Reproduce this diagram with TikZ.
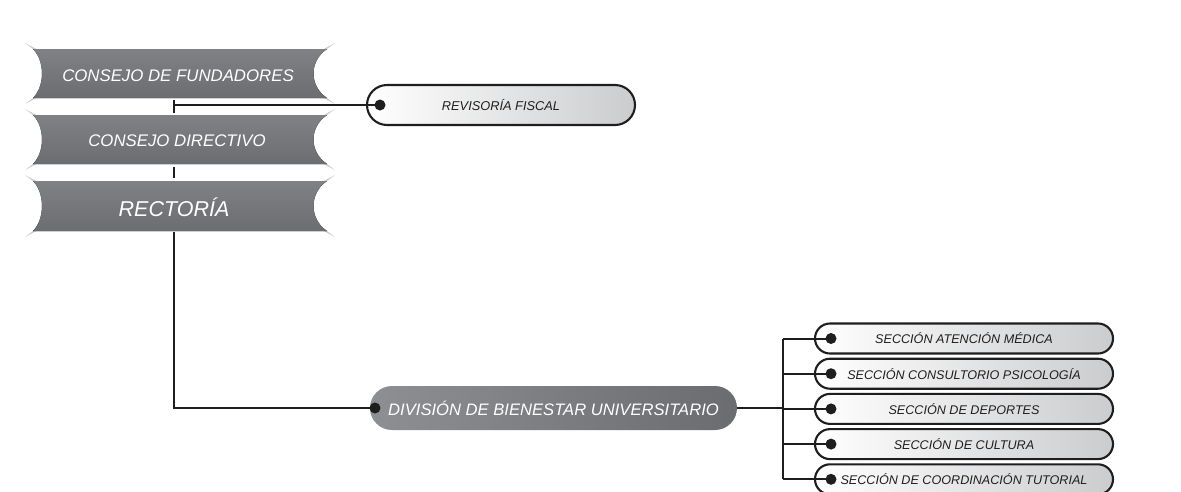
\documentclass[tikz,border=0pt]{standalone}
\usepackage{fontspec}
\setmainfont{Liberation Sans}
\definecolor{bantop}{HTML}{808185}
\definecolor{banbot}{HTML}{6C6D71}
\definecolor{divl}{HTML}{8E8F92}
\definecolor{divr}{HTML}{6B6C70}
\definecolor{pillr}{HTML}{CBCCCE}
\definecolor{ink}{HTML}{1E1E1E}
\definecolor{wedge}{HTML}{C9CACC}
\newcommand\mybanner[2]{%
  \fill[wedge] (33,#1) -- (25,{#1-6}) -- (40,{#1+2}) -- cycle;
  \fill[wedge] (33,#2) -- (25,{#2+6}) -- (40,{#2-2}) -- cycle;
  \fill[wedge] (327,#1) -- (335,{#1-6}) -- (320,{#1+2}) -- cycle;
  \fill[wedge] (327,#2) -- (335,{#2+6}) -- (320,{#2-2}) -- cycle;
  \fill[top color=bantop,bottom color=banbot]
    (33,#1) -- (327,#1) .. controls (309,{#1+12}) and (309,{#2-12}) .. (327,#2)
    -- (33,#2) .. controls (45,{#2-12}) and (45,{#1+12}) .. (33,#1) -- cycle;
}
\begin{document}
\begin{tikzpicture}[x=1pt,y=-1pt,
  banner/.style={text=white,inner sep=0pt,font=\itshape\fontsize{16.8}{18}\selectfont},
  conn/.style={draw=ink,line width=2pt},
  pillw/.style={draw=ink,line width=2.1pt,rounded corners=15pt,left color=white,right color=pillr,
     minimum width=298pt,minimum height=30pt,inner sep=0pt,text=ink,font=\itshape\fontsize{12.6}{14}\selectfont},
  dot/.style={circle,fill=ink,inner sep=0pt,minimum size=11pt},
  divpill/.style={rounded corners=22pt,left color=divl,right color=divr,minimum width=367pt,minimum height=44pt,
     inner sep=0pt,text=white,font=\itshape\fontsize{16.6}{18}\selectfont}]
\useasboundingbox (0,0) rectangle (1181,491);
\fill[white] (0,0) rectangle (1181,491);
% banners
\mybanner{49}{98}
\mybanner{115}{164}
\mybanner{181}{231}
\node[banner] (cf) at (178,76) {CONSEJO DE FUNDADORES};
\node[banner] (cd) at (177,141) {CONSEJO DIRECTIVO};
\node[banner,font=\itshape\fontsize{21.5}{24}\selectfont] (re) at (174,207) {RECTORÍA};
% revisoria fiscal
\node[pillw,rounded corners=20pt,minimum width=268pt,minimum height=40pt,font=\itshape\fontsize{12.8}{15}\selectfont] (rf) at (501,105) {REVISORÍA FISCAL};
\node[dot] (rfdot) at (380,105) {};
\coordinate (t1) at (174,105);
\coordinate (t1a) at (174,100);
\coordinate (t1b) at (174,113);
\draw[conn] (t1) -- (rfdot.center);
\draw[conn] (t1a) -- (t1b);
\coordinate (t2a) at (174,167);
\coordinate (t2b) at (174,178);
\draw[conn] (t2a) -- (t2b);
% division
\node[divpill] (dv) at (553.5,408) {DIVISIÓN DE BIENESTAR UNIVERSITARIO};
\node[dot] (dvdot) at (375,408) {};
\coordinate (rb) at (174,232);
\draw[conn] (rb) |- (dvdot.center);
% sections
\foreach \i/\y/\t in {1/338.5/SECCIÓN ATENCIÓN MÉDICA,
                      2/373.7/SECCIÓN CONSULTORIO PSICOLOGÍA,
                      3/408.9/SECCIÓN DE DEPORTES,
                      4/444.1/SECCIÓN DE CULTURA,
                      5/479.3/SECCIÓN DE COORDINACIÓN TUTORIAL}{
  \node[pillw] (s\i) at (964,\y) {\t};
  \node[dot] (s\i dot) at (831,\y) {};
}
\coordinate (bus) at (783,408);
\draw[conn] (s1dot.center -| bus) -- (s5dot.center -| bus);
\foreach \i in {1,...,5}{
  \draw[conn] (s\i dot.center -| bus) -- (s\i dot.center);
}
\draw[conn] (dv.east) -- (bus);
\end{tikzpicture}
\end{document}
